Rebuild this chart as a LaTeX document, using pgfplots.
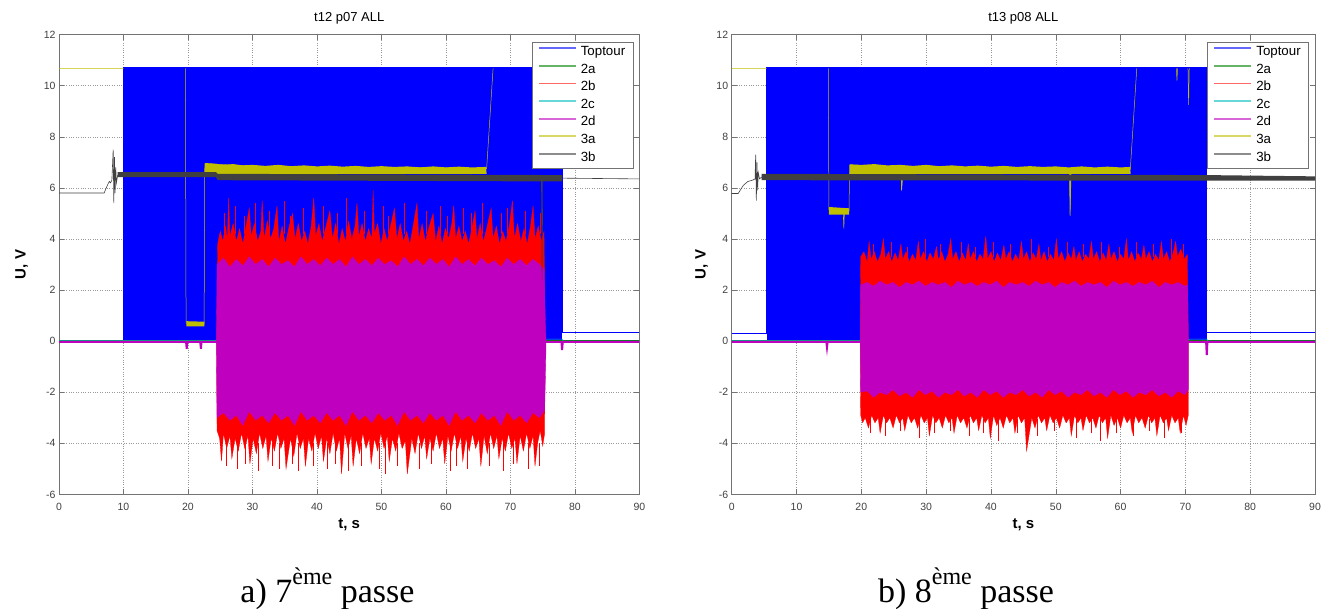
\documentclass[border=0pt]{standalone}
\usepackage{fontspec}
\setmainfont{Liberation Sans}
\newfontfamily\timesf{Liberation Serif}
\usepackage{pgfplots}
\pgfplotsset{compat=1.18}
\definecolor{cTop}{rgb}{0,0,1}
\definecolor{cTwoA}{rgb}{0,0.5,0}
\definecolor{cTwoB}{rgb}{1,0,0}
\definecolor{cTwoC}{rgb}{0,0.75,0.75}
\definecolor{cTwoD}{rgb}{0.75,0,0.75}
\definecolor{cThreeA}{rgb}{0.75,0.75,0}
\definecolor{cThreeB}{rgb}{0.25,0.25,0.25}
\pgfplotsset{
 panel/.style={
  scale only axis, height=459.8pt,
  xmin=0, xmax=90, ymin=-6, ymax=12,
  xtick={0,10,20,30,40,50,60,70,80,90},
  ytick={-6,-4,-2,0,2,4,6,8,10,12},
  xticklabels={0,10,20,30,40,50,60,70,80,90},
  yticklabels={-6,-4,-2,0,2,4,6,8,10,12},
  tick align=inside, major tick length=5pt,
  tick style={black!55, line width=0.5pt},
  axis line style={black!55, line width=0.6pt},
  grid=major, major grid style={black!40, dotted, line width=0.5pt},
  tick label style={font=\fontsize{10.5}{12}\selectfont, text=black!75},
  xticklabel style={yshift=-5pt},
  unbounded coords=jump,
  xlabel={t, s}, ylabel={U, V},
  xlabel style={font=\bfseries\fontsize{15}{17}\selectfont, at={(axis description cs:0.5,0)}, anchor=base, yshift=-33.9pt},
  ylabel style={font=\bfseries\fontsize{15}{17}\selectfont, anchor=center},
  title style={font=\fontsize{13}{15}\selectfont, at={(axis description cs:0.5,1)}, anchor=base, yshift=7pt},
  legend cell align=left,
  legend style={at={(axis description cs:1,1)}, anchor=north east, xshift=-6pt, yshift=-7pt,
    draw=black!55, line width=0.6pt, fill=white, font=\fontsize{13.3}{14}\selectfont,
    inner xsep=6pt, inner ysep=1.7pt, row sep=0pt,
    nodes={inner sep=2pt, text height=10pt, text depth=3.6pt},
    /tikz/column 1/.style={column sep=2pt}},
  legend image code/.code={\draw[#1, line width=1.8pt, draw opacity=0.6] (0pt,4pt) -- (37pt,4pt);},
 }
}
\begin{document}
\begin{tikzpicture}
\path[use as bounding box] (0,0) rectangle (1336pt,609pt);
% ================= panel a =================
\begin{axis}[panel, at={(59pt,114.6pt)}, anchor=south west, width=580.5pt,
  title={t12 p07 ALL},
  ylabel style={at={(axis description cs:-0.0643,0.5)}}]
% Toptour
\addplot[draw=none, fill=cTop, forget plot] coordinates {(10,0) (10,10.72) (78,10.72) (78,0)} -- cycle;
\addplot[color=cTop, line width=0.5pt] coordinates {(0,0) (10,0) (10,10.72) (78,10.72) (78,0.33) (90,0.33)};
% 2a
\addplot[color=cTwoA, line width=0.6pt] coordinates {(0,0.02) (24.4,0.02) (75.3,0.02) (90,0.02)};
% 2b
\addplot[color=cTwoB, line width=0.6pt] coordinates {(0,0) (90,0)};
\addplot[draw=cTwoB, fill=cTwoB, line width=0.3pt, forget plot] coordinates {
(24.45,0) (24.6,3.8) (25.0,4.3) (25.4,3.9) (25.8,4.5) (26.1,4.0) (26.3,5.6) (26.5,4.1) (27.0,4.6) (27.5,3.9) (28.0,4.4) (28.5,3.8) (29.0,4.5) (29.5,5.2) (29.8,4.1) (30.3,4.6) (30.8,3.9) (31.3,4.3) (31.5,5.5) (31.8,4.0) (32.3,4.7) (32.8,4.0) (33.3,4.4) (33.8,5.3) (34.1,3.9) (34.6,4.5) (35.1,3.8) (35.6,4.4) (36.2,5.0) (36.6,4.0) (37.1,4.6) (37.6,3.9) (38.1,4.3) (38.6,3.8) (39.1,4.5) (39.5,5.6) (39.8,4.1) (40.3,4.6) (40.8,3.9) (41.3,4.4) (42.0,5.1) (42.4,4.0) (42.9,4.6) (43.4,3.8) (43.9,4.4) (44.4,3.9) (44.9,4.7) (45.4,4.0) (45.9,4.5) (46.2,5.4) (46.5,4.1) (47.0,4.6) (47.5,3.9) (48.0,4.4) (48.5,4.0) (48.7,5.9) (48.9,4.2) (49.4,4.6) (49.9,3.8) (50.4,4.4) (50.9,3.9) (51.4,4.5) (52.0,5.2) (52.4,4.0) (52.9,4.6) (53.4,3.9) (53.9,4.3) (54.4,3.8) (54.9,4.5) (55.5,5.4) (55.8,4.0) (56.3,4.6) (56.8,3.9) (57.3,4.4) (58.0,5.0) (58.4,3.9) (58.9,4.5) (59.4,3.8) (59.9,4.4) (60.4,4.0) (60.9,4.6) (61.2,5.3) (61.5,4.0) (62.0,4.5) (62.5,3.9) (63.0,4.3) (63.5,3.8) (64.0,4.4) (64.5,5.1) (64.8,4.0) (65.3,4.6) (65.8,3.9) (66.3,4.4) (67.0,5.2) (67.3,4.0) (67.8,4.5) (68.3,3.8) (68.8,4.3) (69.3,3.9) (69.8,4.5) (70.3,5.5) (70.6,4.0) (71.1,4.6) (71.6,3.9) (72.1,4.4) (72.6,3.8) (73.1,4.5) (73.5,5.3) (73.8,4.0) (74.3,4.5) (74.8,3.9) (75.2,4.3) (75.35,0)
(75.3,-3.6) (75.0,-4.1) (74.6,-3.5) (74.2,-4.0) (73.8,-4.9) (73.5,-3.7) (73.0,-4.2) (72.5,-3.6) (72.0,-4.3) (71.5,-3.7) (71.0,-4.8) (70.7,-3.8) (70.2,-4.2) (69.7,-3.6) (69.2,-4.3) (68.7,-3.8) (68.2,-4.6) (67.9,-3.7) (67.4,-4.2) (66.9,-3.6) (66.4,-4.4) (65.9,-3.7) (65.4,-4.9) (65.1,-3.8) (64.6,-4.2) (64.1,-3.6) (63.6,-4.3) (63.1,-3.8) (62.6,-4.7) (62.3,-3.7) (61.8,-4.2) (61.3,-3.6) (60.8,-4.3) (60.3,-3.7) (59.8,-4.8) (59.5,-3.8) (59.0,-4.2) (58.5,-3.6) (58.0,-4.3) (57.5,-3.8) (57.0,-4.6) (56.7,-3.7) (56.2,-4.2) (55.7,-3.6) (55.2,-4.4) (54.7,-3.8) (54.0,-5.2) (53.7,-3.9) (53.2,-4.2) (52.7,-3.6) (52.2,-4.3) (51.7,-3.8) (51.2,-4.7) (50.9,-3.7) (50.4,-4.2) (49.9,-3.6) (49.4,-4.3) (48.9,-3.8) (48.4,-4.8) (48.1,-3.8) (47.6,-4.2) (47.1,-3.6) (46.6,-4.4) (46.1,-3.8) (45.6,-4.9) (45.3,-3.7) (44.8,-4.2) (44.3,-3.6) (43.8,-5.2) (43.5,-3.8) (43.0,-4.3) (42.5,-3.6) (42.0,-4.4) (41.5,-3.8) (41.0,-4.7) (40.7,-3.7) (40.2,-4.2) (39.7,-3.6) (39.2,-4.3) (38.7,-3.8) (38.2,-4.9) (37.9,-3.8) (37.4,-4.2) (36.9,-3.6) (36.4,-4.5) (35.9,-3.8) (35.2,-5.0) (34.9,-3.8) (34.4,-4.2) (33.9,-3.6) (33.4,-4.3) (32.9,-3.8) (32.4,-4.7) (32.1,-3.7) (31.6,-4.2) (31.1,-3.6) (30.6,-4.4) (30.1,-3.8) (29.6,-4.8) (29.3,-3.7) (28.8,-4.2) (28.3,-3.6) (27.8,-4.3) (27.3,-3.8) (26.8,-4.6) (26.5,-3.7) (26.0,-4.2) (25.5,-3.6) (25.2,-4.7) (24.9,-3.8) (24.5,-3.5)
} -- cycle;
\addplot[color=cTwoB, line width=0.5pt, forget plot] coordinates {
(25.6,4.2) (25.6,5.0) (25.6,nan) (27.3,4.2) (27.3,5.3) (27.3,nan) (28.7,4.2) (28.7,4.9) (28.7,nan) (30.5,4.2) (30.5,5.4) (30.5,nan) (32.6,4.2) (32.6,5.1) (32.6,nan) (34.9,4.2) (34.9,5.5) (34.9,nan) (35.9,4.2) (35.9,4.9) (35.9,nan) (37.8,4.2) (37.8,5.2) (37.8,nan) (40.9,4.2) (40.9,5.3) (40.9,nan) (43.1,4.2) (43.1,5.0) (43.1,nan) (44.6,4.2) (44.6,5.6) (44.6,nan) (47.3,4.2) (47.3,5.1) (47.3,nan) (50.2,4.2) (50.2,5.3) (50.2,nan) (51.1,4.2) (51.1,4.9) (51.1,nan) (53.6,4.2) (53.6,5.4) (53.6,nan) (56.9,4.2) (56.9,5.1) (56.9,nan) (59.1,4.2) (59.1,5.3) (59.1,nan) (60.2,4.2) (60.2,4.9) (60.2,nan) (62.7,4.2) (62.7,5.2) (62.7,nan) (63.9,4.2) (63.9,5.0) (63.9,nan) (65.6,4.2) (65.6,5.4) (65.6,nan) (68.6,4.2) (68.6,5.0) (68.6,nan) (69.5,4.2) (69.5,5.2) (69.5,nan) (72.3,4.2) (72.3,5.1) (72.3,nan) (74.6,4.2) (74.6,5.0) (74.6,nan)
(25.9,-4.0) (25.9,-4.9) (25.9,nan) (27.6,-4.0) (27.6,-5.0) (27.6,nan) (28.9,-4.0) (28.9,-4.8) (28.9,nan) (30.9,-4.0) (30.9,-5.1) (30.9,nan) (33.1,-4.0) (33.1,-4.9) (33.1,nan) (34.2,-4.0) (34.2,-5.0) (34.2,nan) (36.1,-4.0) (36.1,-4.8) (36.1,nan) (37.1,-4.0) (37.1,-5.1) (37.1,nan) (39.4,-4.0) (39.4,-4.9) (39.4,nan) (41.6,-4.0) (41.6,-5.0) (41.6,nan) (42.8,-4.0) (42.8,-4.8) (42.8,nan) (44.9,-4.0) (44.9,-5.1) (44.9,nan) (46.9,-4.0) (46.9,-4.9) (46.9,nan) (49.6,-4.0) (49.6,-5.0) (49.6,nan) (50.6,-4.0) (50.6,-5.2) (50.6,nan) (52.4,-4.0) (52.4,-4.9) (52.4,nan) (55.9,-4.0) (55.9,-5.0) (55.9,nan) (57.7,-4.0) (57.7,-4.8) (57.7,nan) (60.6,-4.0) (60.6,-5.1) (60.6,nan) (61.6,-4.0) (61.6,-4.9) (61.6,nan) (63.3,-4.0) (63.3,-5.0) (63.3,nan) (66.7,-4.0) (66.7,-4.9) (66.7,nan) (68.9,-4.0) (68.9,-5.1) (68.9,nan) (70.4,-4.0) (70.4,-4.8) (70.4,nan) (72.8,-4.0) (72.8,-5.0) (72.8,nan) (74.4,-4.0) (74.4,-4.9)
};
% 2c
\addplot[color=cTwoC, line width=0.6pt] coordinates {(0,0.02) (75.3,0.02) (75.5,0.08) (78,0.08) (78.2,0.0) (90,0.0)};
% 2d
\addplot[color=cTwoD, line width=2pt] coordinates {(0,-0.03) (19.7,-0.03) (19.8,-0.3) (19.9,-0.03) (21.9,-0.03) (22.0,-0.3) (22.1,-0.03) (77.9,-0.03) (78.0,-0.35) (78.1,-0.03) (90,-0.03)};
\addplot[draw=cTwoD, fill=cTwoD, line width=0.3pt, forget plot] coordinates {
(24.4,0) (24.5,3.0) (25.5,3.25) (26.5,2.9) (27.5,3.2) (28.5,2.95) (29.5,3.3) (30.5,3.0) (31.5,3.2) (32.5,2.9) (33.5,3.25) (34.5,3.0) (35.5,3.15) (36.5,2.9) (37.5,3.3) (38.5,3.0) (39.5,3.2) (40.5,2.95) (41.5,3.25) (42.5,3.0) (43.5,3.2) (44.5,2.9) (45.5,3.3) (46.5,3.0) (47.5,3.2) (48.5,2.95) (49.5,3.25) (50.5,3.0) (51.5,3.15) (52.5,2.9) (53.5,3.3) (54.5,3.0) (55.5,3.2) (56.5,2.95) (57.5,3.25) (58.5,3.0) (59.5,3.2) (60.5,2.9) (61.5,3.3) (62.5,3.0) (63.5,3.2) (64.5,2.95) (65.5,3.25) (66.5,3.0) (67.5,3.15) (68.5,2.9) (69.5,3.25) (70.5,3.0) (71.5,3.2) (72.5,2.95) (73.5,3.2) (74.5,3.0) (75.2,2.8) (75.5,0)
(75.5,-0.3) (75.3,-2.7) (74.5,-3.0) (73.5,-2.8) (72.5,-3.2) (71.5,-2.9) (70.5,-3.1) (69.5,-2.75) (68.5,-3.3) (67.5,-2.9) (66.5,-3.1) (65.5,-2.8) (64.5,-3.2) (63.5,-2.9) (62.5,-3.1) (61.5,-2.75) (60.5,-3.3) (59.5,-2.9) (58.5,-3.1) (57.5,-2.8) (56.5,-3.2) (55.5,-2.9) (54.5,-3.1) (53.5,-2.75) (52.5,-3.3) (51.5,-2.9) (50.5,-3.1) (49.5,-2.8) (48.5,-3.2) (47.5,-2.9) (46.5,-3.1) (45.5,-2.75) (44.5,-3.3) (43.5,-2.9) (42.5,-3.1) (41.5,-2.8) (40.5,-3.2) (39.5,-2.9) (38.5,-3.1) (37.5,-2.75) (36.5,-3.3) (35.5,-2.9) (34.5,-3.1) (33.5,-2.8) (32.5,-3.2) (31.5,-2.9) (30.5,-3.1) (29.5,-2.75) (28.5,-3.3) (27.5,-2.9) (26.5,-3.1) (25.5,-2.8) (24.5,-3.0)
} -- cycle;
% 3a
\addplot[color=cThreeA, line width=0.5pt] coordinates {(0,10.68) (10,10.68) (10,nan) (19.6,10.68) (19.7,0.7) (22.5,0.68) (22.6,6.95) (30,6.85) (40,6.8) (50,6.8) (60,6.78) (66.3,6.75) (67.3,10.68)};
\addplot[draw=none, fill=cThreeA, forget plot] coordinates {(19.75,0.58) (19.75,0.78) (22.55,0.76) (22.55,0.58)} -- cycle;
\addplot[draw=none, fill=cThreeA, forget plot] coordinates {(22.6,6.55) (22.65,6.97) (24,6.95) (25.5,6.9) (27,6.93) (28.5,6.88) (30,6.9) (32,6.86) (34,6.9) (36,6.85) (38,6.88) (40,6.84) (42,6.87) (44,6.83) (46,6.86) (48,6.82) (50,6.85) (52,6.82) (54,6.84) (56,6.8) (58,6.84) (60,6.8) (62,6.83) (64,6.8) (66.2,6.82) (66.3,6.55)} -- cycle;
% 3b
\addplot[color=cThreeB, line width=0.6pt] coordinates {(0,5.8) (7.0,5.8) (7.5,6.1) (7.8,6.25) (8.0,6.2) (8.2,6.3) (8.4,7.5) (8.5,5.4) (8.6,7.2) (8.7,5.8) (8.8,6.8) (8.9,6.2) (9.1,6.5) (40,6.45) (74.8,6.4) (74.9,2.4) (75.0,6.4) (78,6.38) (90,6.35)};
\addplot[draw=none, fill=cThreeB, forget plot] coordinates {(9.1,6.42) (9.1,6.62) (24.3,6.62) (24.6,6.55) (78,6.5) (78,6.25) (24.6,6.3) (24.3,6.42)} -- cycle;
\legend{Toptour,2a,2b,2c,2d,3a,3b}
\end{axis}
% ================= panel b =================
\begin{axis}[panel, at={(731.7pt,114.6pt)}, anchor=south west, width=583.3pt,
  title={t13 p08 ALL},
  ylabel style={at={(axis description cs:-0.0514,0.5)}}]
% Toptour
\addplot[draw=none, fill=cTop, forget plot] coordinates {(5.4,0) (5.4,10.72) (73.3,10.72) (73.3,0)} -- cycle;
\addplot[color=cTop, line width=0.6pt] coordinates {(0,0.3) (5.4,0.3) (5.4,10.72) (73.3,10.72) (73.3,0.33) (90,0.33)};
% 2a
\addplot[color=cTwoA, line width=0.6pt] coordinates {(0,0.02) (90,0.02)};
% 2b
\addplot[color=cTwoB, line width=0.6pt] coordinates {(0,0) (90,0)};
\addplot[draw=cTwoB, fill=cTwoB, line width=0.3pt, forget plot] coordinates {
(19.85,0) (19.9,3.3) (20.4,3.5) (20.9,3.1) (21.2,3.9) (21.5,3.2) (22.0,3.5) (22.5,3.1) (23.0,3.4) (23.4,4.0) (23.7,3.2) (24.2,3.5) (24.7,3.1) (25.2,3.45) (25.7,3.15) (26.1,3.8) (26.4,3.2) (26.9,3.5) (27.4,3.1) (27.9,3.4) (28.4,3.15) (28.8,3.9) (29.1,3.2) (29.6,3.5) (30.1,3.1) (30.6,3.45) (31.1,3.2) (31.6,3.7) (31.9,3.15) (32.4,3.5) (32.9,3.1) (33.4,3.4) (33.8,4.0) (34.1,3.2) (34.6,3.5) (35.1,3.1) (35.6,3.45) (36.1,3.15) (36.5,3.8) (36.8,3.2) (37.3,3.5) (37.8,3.1) (38.3,3.4) (38.8,3.2) (39.2,4.1) (39.5,3.2) (40.0,3.5) (40.5,3.1) (41.0,3.45) (41.5,3.15) (42.0,3.75) (42.3,3.2) (42.8,3.5) (43.3,3.1) (43.8,3.4) (44.3,3.15) (44.7,3.9) (45.0,3.2) (45.5,3.5) (46.0,3.1) (46.5,3.45) (47.0,3.2) (47.4,3.8) (47.7,3.15) (48.2,3.5) (48.7,3.1) (49.2,3.4) (49.7,3.15) (50.1,4.0) (50.4,3.2) (50.9,3.5) (51.4,3.1) (51.9,3.45) (52.4,3.2) (52.8,3.7) (53.1,3.15) (53.6,3.5) (54.1,3.1) (54.6,3.4) (55.1,3.2) (55.5,3.9) (55.8,3.2) (56.3,3.5) (56.8,3.1) (57.3,3.45) (57.8,3.15) (58.2,3.8) (58.5,3.2) (59.0,3.5) (59.5,3.1) (60.0,3.4) (60.5,3.2) (60.9,4.0) (61.2,3.15) (61.7,3.5) (62.2,3.1) (62.7,3.45) (63.2,3.2) (63.6,3.75) (63.9,3.2) (64.4,3.5) (64.9,3.1) (65.4,3.4) (65.9,3.15) (66.3,3.9) (66.6,3.2) (67.1,3.5) (67.6,3.1) (68.1,3.45) (68.5,3.9) (68.8,3.3) (69.3,3.6) (69.8,3.2) (70.3,3.4) (70.45,0)
(70.45,-2.9) (70.1,-3.3) (69.7,-2.9) (69.2,-3.6) (68.9,-3.0) (68.4,-3.2) (67.9,-2.9) (67.4,-3.5) (67.1,-3.0) (66.6,-3.2) (66.1,-2.9) (65.6,-3.7) (65.3,-3.0) (64.8,-3.2) (64.3,-2.9) (63.8,-3.4) (63.3,-3.0) (62.8,-3.2) (62.3,-2.9) (61.8,-3.6) (61.5,-3.0) (61.0,-3.2) (60.5,-2.9) (60.0,-3.4) (59.5,-3.0) (59.0,-3.3) (58.5,-2.9) (58.0,-3.8) (57.7,-3.0) (57.2,-3.2) (56.7,-2.9) (56.2,-3.4) (55.7,-3.0) (55.2,-3.2) (54.7,-2.9) (54.2,-3.5) (53.9,-3.0) (53.4,-3.2) (52.9,-2.9) (52.4,-3.7) (52.1,-3.0) (51.6,-3.2) (51.1,-2.9) (50.6,-3.4) (50.1,-3.0) (49.6,-3.2) (49.1,-2.9) (48.6,-3.5) (48.3,-3.0) (47.8,-3.2) (47.3,-2.9) (46.8,-3.4) (46.3,-3.0) (45.5,-4.3) (45.2,-3.0) (44.7,-3.2) (44.2,-2.9) (43.7,-3.6) (43.4,-3.0) (42.9,-3.2) (42.4,-2.9) (41.9,-3.4) (41.4,-3.0) (40.9,-3.3) (40.4,-2.9) (39.9,-3.8) (39.6,-3.0) (39.1,-3.2) (38.6,-2.9) (38.1,-3.5) (37.8,-3.0) (37.3,-3.2) (36.8,-2.9) (36.3,-3.4) (35.8,-3.0) (35.3,-3.2) (34.8,-2.9) (34.3,-3.6) (34.0,-3.0) (33.5,-3.2) (33.0,-2.9) (32.5,-3.4) (32.0,-3.0) (31.5,-3.2) (31.0,-2.9) (30.5,-3.7) (30.2,-3.0) (29.7,-3.2) (29.2,-2.9) (28.7,-3.4) (28.2,-3.0) (27.7,-3.2) (27.2,-2.9) (26.7,-3.5) (26.4,-3.0) (25.9,-3.2) (25.4,-2.9) (24.9,-3.4) (24.4,-3.0) (23.9,-3.2) (23.4,-2.9) (22.9,-3.6) (22.6,-3.0) (22.1,-3.2) (21.6,-2.9) (21.1,-3.4) (20.6,-3.0) (20.2,-3.2) (19.9,-2.9)
} -- cycle;
\addplot[color=cTwoB, line width=0.5pt, forget plot] coordinates {
(21.8,3.3) (21.8,3.8) (21.8,nan) (24.6,3.3) (24.6,3.9) (24.6,nan) (27.1,3.3) (27.1,3.7) (27.1,nan) (29.9,3.3) (29.9,4.0) (29.9,nan) (32.2,3.3) (32.2,3.8) (32.2,nan) (35.4,3.3) (35.4,3.9) (35.4,nan) (37.6,3.3) (37.6,3.7) (37.6,nan) (40.3,3.3) (40.3,3.9) (40.3,nan) (43.0,3.3) (43.0,3.8) (43.0,nan) (46.2,3.3) (46.2,4.0) (46.2,nan) (48.9,3.3) (48.9,3.7) (48.9,nan) (51.7,3.3) (51.7,3.9) (51.7,nan) (54.3,3.3) (54.3,3.8) (54.3,nan) (57.0,3.3) (57.0,3.9) (57.0,nan) (59.8,3.3) (59.8,3.7) (59.8,nan) (62.4,3.3) (62.4,3.9) (62.4,nan) (65.1,3.3) (65.1,3.8) (65.1,nan) (67.8,3.3) (67.8,4.0) (67.8,nan) (69.6,3.3) (69.6,3.8) (69.6,nan)
(21.3,-3.05) (21.3,-3.6) (21.3,nan) (23.7,-3.05) (23.7,-3.7) (23.7,nan) (26.0,-3.05) (26.0,-3.5) (26.0,nan) (28.9,-3.05) (28.9,-3.8) (28.9,nan) (31.2,-3.05) (31.2,-3.6) (31.2,nan) (33.7,-3.05) (33.7,-3.5) (33.7,nan) (36.6,-3.05) (36.6,-3.7) (36.6,nan) (38.8,-3.05) (38.8,-3.6) (38.8,nan) (41.2,-3.05) (41.2,-3.9) (41.2,nan) (44.0,-3.05) (44.0,-3.6) (44.0,nan) (47.1,-3.05) (47.1,-3.7) (47.1,nan) (49.8,-3.05) (49.8,-3.5) (49.8,nan) (53.1,-3.05) (53.1,-3.8) (53.1,nan) (55.5,-3.05) (55.5,-3.6) (55.5,nan) (56.9,-3.05) (56.9,-3.9) (56.9,nan) (59.3,-3.05) (59.3,-3.6) (59.3,nan) (62.0,-3.05) (62.0,-3.7) (62.0,nan) (64.4,-3.05) (64.4,-3.5) (64.4,nan) (66.8,-3.05) (66.8,-3.8) (66.8,nan) (69.4,-3.05) (69.4,-3.6)
};
% 2c
\addplot[color=cTwoC, line width=0.6pt] coordinates {(0,0.02) (70.4,0.02) (70.6,0.08) (73.3,0.08) (73.5,0.0) (90,0.0)};
% 2d
\addplot[color=cTwoD, line width=2pt] coordinates {(0,-0.03) (14.6,-0.03) (14.7,-0.25) (14.8,-0.03) (73.2,-0.03) (73.3,-0.55) (73.4,-0.03) (90,-0.03)};
\addplot[draw=cTwoD, fill=cTwoD, line width=0.3pt, forget plot] coordinates {
(19.85,0) (19.9,2.2) (20.9,2.3) (21.9,2.15) (22.9,2.35) (23.9,2.2) (24.9,2.3) (25.9,2.1) (26.9,2.3) (27.9,2.2) (28.9,2.35) (29.9,2.15) (30.9,2.3) (31.9,2.2) (32.9,2.3) (33.9,2.1) (34.9,2.35) (35.9,2.2) (36.9,2.3) (37.9,2.15) (38.9,2.3) (39.9,2.2) (40.9,2.35) (41.9,2.1) (42.9,2.3) (43.9,2.2) (44.9,2.3) (45.9,2.15) (46.9,2.35) (47.9,2.2) (48.9,2.3) (49.9,2.1) (50.9,2.3) (51.9,2.2) (52.9,2.35) (53.9,2.15) (54.9,2.3) (55.9,2.2) (56.9,2.3) (57.9,2.1) (58.9,2.35) (59.9,2.2) (60.9,2.3) (61.9,2.15) (62.9,2.3) (63.9,2.2) (64.9,2.35) (65.9,2.1) (66.9,2.3) (67.9,2.2) (68.9,2.3) (69.9,2.15) (70.35,2.2) (70.45,0)
(70.45,-1.9) (69.9,-2.1) (68.9,-1.95) (67.9,-2.2) (66.9,-2.0) (65.9,-2.15) (64.9,-1.9) (63.9,-2.1) (62.9,-2.0) (61.9,-2.2) (60.9,-1.95) (59.9,-2.1) (58.9,-1.9) (57.9,-2.2) (56.9,-2.0) (55.9,-2.15) (54.9,-1.9) (53.9,-2.1) (52.9,-2.0) (51.9,-2.2) (50.9,-1.95) (49.9,-2.1) (48.9,-1.9) (47.9,-2.2) (46.9,-2.0) (45.9,-2.15) (44.9,-1.9) (43.9,-2.1) (42.9,-2.0) (41.9,-2.2) (40.9,-1.95) (39.9,-2.1) (38.9,-1.9) (37.9,-2.2) (36.9,-2.0) (35.9,-2.15) (34.9,-1.9) (33.9,-2.1) (32.9,-2.0) (31.9,-2.2) (30.9,-1.95) (29.9,-2.1) (28.9,-1.9) (27.9,-2.2) (26.9,-2.0) (25.9,-2.15) (24.9,-1.9) (23.9,-2.1) (22.9,-2.0) (21.9,-2.2) (20.9,-1.95) (19.9,-2.0)
} -- cycle;
% 3a
\addplot[color=cThreeA, line width=0.5pt] coordinates {(0,10.68) (5.4,10.68) (5.4,nan) (14.9,10.68) (15.0,5.15) (17.2,5.1) (17.3,4.4) (17.4,5.1) (18.1,5.1) (18.2,6.9) (26.1,6.8) (26.2,5.9) (26.35,6.8) (52.1,6.75) (52.2,4.9) (52.35,6.75) (61.5,6.72) (62.5,10.68) (62.5,nan) (68.6,10.68) (68.7,10.2) (68.8,10.68) (68.8,nan) (70.4,10.68) (70.5,9.25) (70.6,10.68)};
\addplot[draw=none, fill=cThreeA, forget plot] coordinates {(15.0,4.95) (15.0,5.25) (18.1,5.2) (18.1,4.95)} -- cycle;
\addplot[draw=none, fill=cThreeA, forget plot] coordinates {(18.2,6.55) (18.25,6.92) (20,6.9) (22,6.93) (24,6.88) (26,6.9) (28,6.86) (30,6.9) (32,6.85) (34,6.88) (36,6.84) (38,6.87) (40,6.83) (42,6.86) (44,6.82) (46,6.85) (48,6.82) (50,6.84) (52,6.8) (54,6.84) (56,6.8) (58,6.83) (60,6.8) (61.5,6.82) (61.55,6.55) (52.4,6.55) (52.25,4.9) (52.1,6.55) (26.45,6.55) (26.25,5.85) (26.05,6.55)} -- cycle;
% 3b
\addplot[color=cThreeB, line width=0.6pt] coordinates {(0,5.78) (1.0,5.78) (1.8,6.1) (2.5,6.25) (3.2,6.3) (3.6,6.35) (3.7,7.3) (3.8,5.5) (3.9,7.0) (4.0,5.9) (4.1,6.6) (4.3,6.35) (4.6,6.42) (90,6.36)};
\addplot[draw=none, fill=cThreeB, forget plot] coordinates {(4.6,6.3) (4.6,6.55) (73.3,6.5) (90,6.45) (90,6.28) (73.3,6.28)} -- cycle;
\legend{Toptour,2a,2b,2c,2d,3a,3b}
\end{axis}
% captions
\node[anchor=base, font=\timesf\fontsize{34}{38}\selectfont, inner sep=0pt] at (327.5pt,6pt) {a) 7\raisebox{18pt}{\fontsize{24}{24}\selectfont ème} passe};
\node[anchor=base, font=\timesf\fontsize{34}{38}\selectfont, inner sep=0pt] at (966pt,6pt) {b) 8\raisebox{18pt}{\fontsize{24}{24}\selectfont ème} passe};
\end{tikzpicture}
\end{document}
